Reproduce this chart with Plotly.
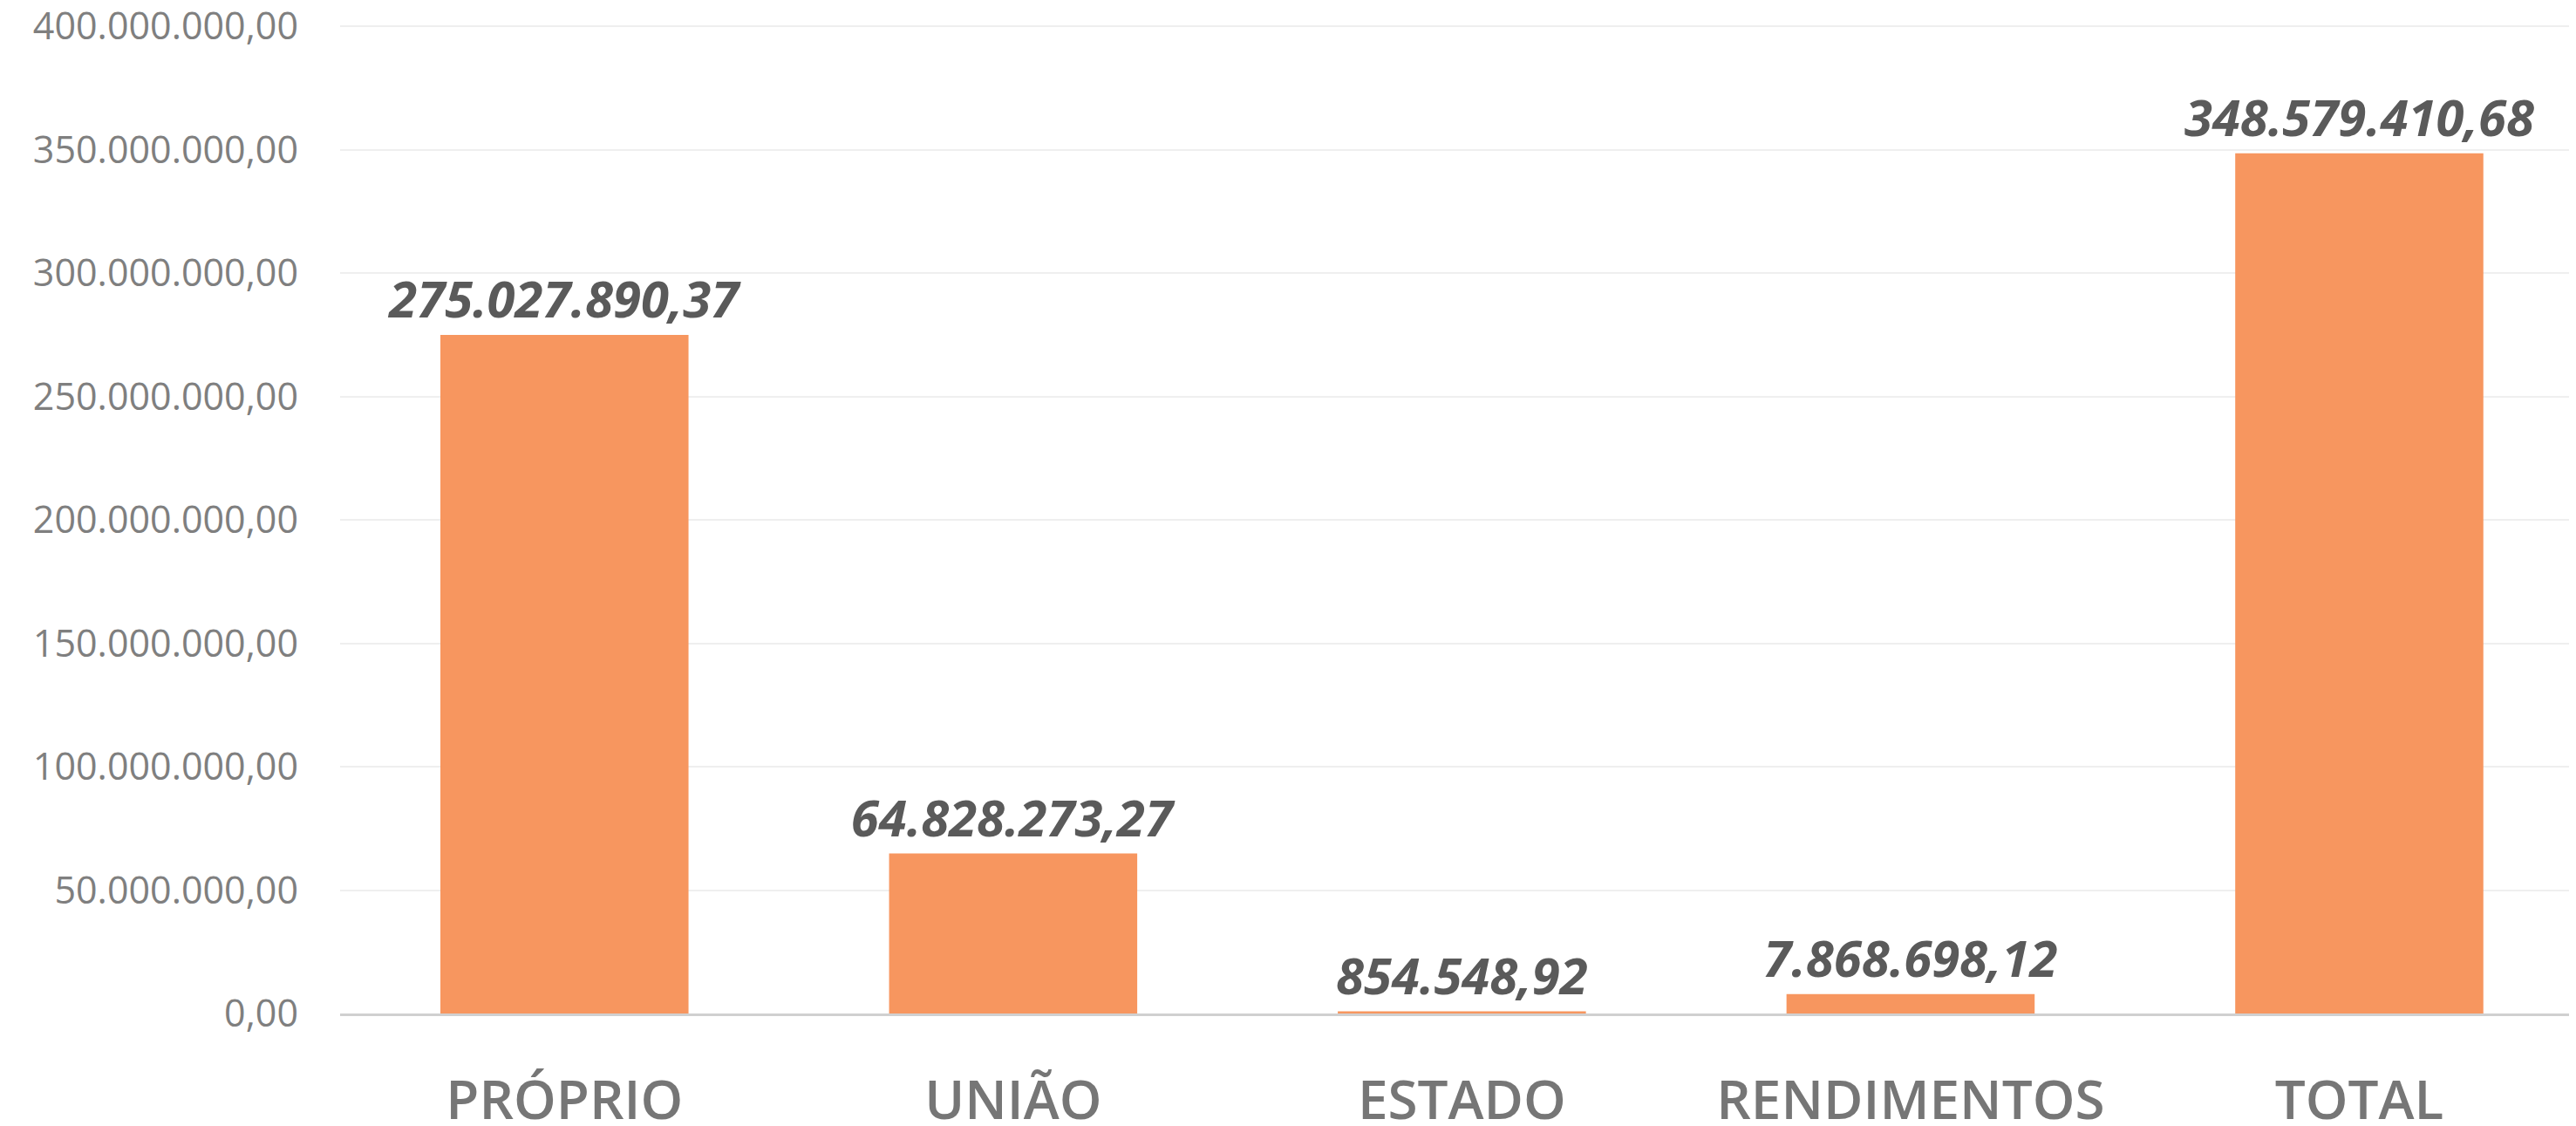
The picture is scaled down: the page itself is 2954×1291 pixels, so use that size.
import plotly.graph_objects as go

categories = ["PRÓPRIO", "UNIÃO", "ESTADO", "RENDIMENTOS", "TOTAL"]
values = [275027890.37, 64828273.27, 854548.92, 7868698.12, 348579410.68]
tick_values = [0, 50e6, 100e6, 150e6, 200e6, 250e6, 300e6, 350e6, 400e6]

fig = go.Figure()
fig.add_trace(go.Bar(
    x=categories,
    y=values,
    marker=dict(color="#F7965F", line=dict(width=0)),
    texttemplate="<i>%{y:,.2f}</i>",
    textposition="outside",
    constraintext="none",
    cliponaxis=False,
    textfont=dict(family="Open Sans", size=58, color="#5a5a5a", weight="bold"),
))

fig.update_layout(
    width=2946, height=1283,
    margin=dict(l=382, r=0, t=11, b=129),
    paper_bgcolor="white", plot_bgcolor="white",
    separators=",.",
    bargap=0.447,
    showlegend=False,
    font=dict(family="Open Sans"),
    uniformtext=dict(mode=False),
)
fig.update_yaxes(
    range=[0, 404e6],
    tickvals=tick_values,
    tickformat=",.2f",
    tickfont=dict(family="Open Sans", size=43, color="#7f7f7f"),
    gridcolor="#efefef", gridwidth=2,
    zeroline=False,
    showline=False,
    ticklabelstandoff=47,
    ticklabeloverflow="allow",
    automargin=False,
)
fig.update_xaxes(
    range=[-0.5, 4.483],
    tickfont=dict(family="Open Sans", size=62, color="#767676", weight=600),
    showline=True, linecolor="#d0d0d0", linewidth=3,
    ticklabelstandoff=44,
    automargin=False,
)

fig.write_html("out.html")
